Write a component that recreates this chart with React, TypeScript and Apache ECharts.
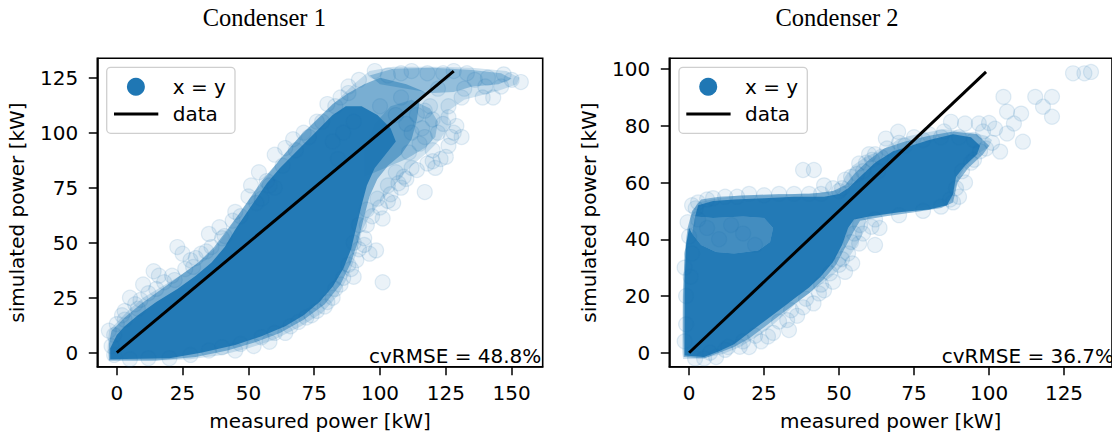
import React, { useEffect, useRef } from "react";
import * as echarts from "echarts";

const BLUE = "#1f77b4";

// ---------- Condenser 1 ----------
const C1_X_TICKS = [0, 25, 50, 75, 100, 125, 150];
const C1_Y_TICKS = [0, 25, 50, 75, 100, 125];
const C1_LINE = [[0, 0], [128, 128]];
// density envelopes of the point cloud (measured, simulated)
const C1_FAINT = [
  [-3, -3.5], [12, -3.8], [28, -3], [40, -1], [50, 2], [60, 6], [70, 12], [78, 18], [84, 26], [88, 35], [91, 45], [93, 55],
  [96, 62], [100, 68], [104, 74], [108, 80], [113, 86], [118, 91], [123, 97], [126, 103], [126, 110], [132, 115], [145, 119],
  [152, 122], [153, 125], [148, 128], [135, 129.5], [120, 130], [105, 130], [96, 128], [90, 122], [84, 115], [78, 108],
  [72, 101], [67, 95], [62, 88], [57, 80], [52, 72], [48, 66], [43, 57], [37, 47], [30, 40], [24, 35], [17, 30], [10, 25],
  [5, 20], [1, 15], [-3, 10], [-3.5, 2],
];
const C1_LOBE = [
  [94, 80], [102, 84], [110, 88], [117, 93], [121, 98], [122, 105], [119, 111], [112, 115], [104, 112], [98, 104], [94, 92],
];
const C1_MID = [
  [-3, -3.5], [15, -3.5], [30, -2], [42, 1], [52, 4.5], [62, 9], [71, 15], [79, 22], [85, 31], [89, 41], [92, 52], [94, 62],
  [96, 71], [99, 79], [103, 85], [108, 90], [112, 97], [114, 106], [115, 114], [118, 118], [110, 122], [100, 125], [94, 122],
  [88, 118], [82, 113], [76, 106], [70, 99], [65, 92], [60, 85], [55, 78], [51, 71], [47, 64], [42, 56], [37, 48], [31, 41],
  [24, 35], [16, 28], [9, 22], [3, 16], [-2, 10], [-3, 4],
];
const C1_CORE = [
  [-2.5, -3], [20, -2.5], [32, 0], [45, 3.5], [55, 7.5], [64, 12], [71, 17], [77, 23], [82, 30], [86, 38], [89, 47], [91, 57],
  [93, 67], [95, 76], [98, 84], [102, 90], [106, 96], [104, 102], [99, 108], [93, 112], [87, 112], [82, 108], [77, 102],
  [72, 96], [67, 90], [62, 84], [57, 77], [53, 70], [49, 63], [45, 56], [41, 48], [36, 41], [30, 35], [23, 29], [15, 23],
  [8, 17], [3, 12], [0, 8], [-2.5, 2],
];
const C1_TOP = [
  [96, 126], [105, 129], [120, 129.5], [135, 128.5], [146, 127], [150, 124.5], [145, 122], [135, 121], [128, 118.5],
  [120, 118], [110, 120], [100, 122],
];
const C1_POINTS = [
  [101, 32], [90, 34.5], [96, 45], [98.5, 46.5], [94, 49], [101, 61], [103, 69], [105, 68], [108, 75], [117, 73], [109, 80],
  [112, 84], [120, 87], [123, 88], [125, 89], [117, 98], [122, 100], [128, 100], [131, 98], [124, 104], [126, 107], [129, 103],
  [117, 110], [119, 112], [131, 116], [139, 116], [143, 116], [153.5, 123], [150, 124], [147, 126.5], [141, 125], [136, 124],
  [133, 127], [128, 128], [124, 127], [118, 127], [112, 128], [108, 127], [103, 126], [98, 128], [92, 124], [88, 121],
  [85, 116], [80, 113], [76, 105], [71, 100], [67, 97], [64, 93], [60, 90], [54, 82], [51, 76], [50, 71], [45, 64], [39, 57],
  [35, 54], [23, 48], [25, 45], [14, 37], [10, 31], [16, 35], [5, 25], [2, 17], [-1, 8], [28, 42], [32, 45], [21, 35],
  [7, 22], [0, 13], [-1, -1], [5, -3], [12, -2.5], [20, -2.5], [28, -1], [35, 1], [40, 2.5], [47, 4], [55, 7], [60, 9],
  [66, 12], [72, 16], [76, 19], [80, 23], [83, 29], [86, 34], [89, 38], [91, 42], [92, 47], [94, 52], [95, 58], [97, 62],
  [100, 66], [104, 72], [107, 77], [110, 79], [114, 83], [118, 86], [121, 84], [120, 92], [126, 94], [127, 98], [115, 95],
  [112, 100], [110, 104], [114, 108], [120, 106], [126, 112], [84, 88], [82, 96], [86, 100], [90, 105], [60, 75], [57, 78],
  [55, 70], [44, 60], [40, 52], [36, 48], [30, 43], [26, 38], [18, 32], [12, 27], [8, 20], [3, 15], [-2, 3], [-3, 10],
  [3, 19], [9, 24], [15, 29], [22, 33], [29, 39], [34, 46], [41, 53], [47, 62], [53, 68], [58, 76], [63, 85], [68, 92],
  [73, 98], [78, 105], [83, 112], [88, 118], [45, 1], [52, 3], [58, 5], [64, 9], [69, 14], [74, 17], [79, 21], [82, 25],
  [85, 31], [88, 40], [90, 50], [92, 58], [95, 65], [99, 70], [103, 76], [106, 82], [111, 91], [116, 102], [106, 108],
  [100, 112], [108, 116], [122, 120], [132, 120], [140, 121], [146, 121],
];

// ---------- Condenser 2 ----------
const C2_X_TICKS = [0, 25, 50, 75, 100, 125];
const C2_Y_TICKS = [0, 20, 40, 60, 80, 100];
const C2_LINE = [[0, 0], [99, 99]];
const C2_FAINT = [
  [-2, -2.2], [3, -2.2], [11, -0.5], [17, 2], [21.6, 5], [26, 8], [31, 12.7], [36.8, 18.6], [40, 21], [47.4, 26.8],
  [52, 31.5], [55.6, 37.4], [58, 42], [59, 46.8], [61.4, 48], [67, 49], [73, 50.3], [79, 51.5], [83.6, 52.6], [87.2, 53.8],
  [88.4, 57], [89.6, 61], [92, 65.6], [96.6, 70.3], [100, 72.6], [101, 75], [99, 76.5], [94, 77.6], [90.8, 78.2], [85, 78.8],
  [79, 77.6], [73, 76.3], [69.7, 75.3], [65, 71.8], [59, 69.2], [54.4, 65.8], [52, 62], [50, 57.5], [45, 56.3], [38, 56.3],
  [32, 55.5], [26, 55.5], [17, 55.5], [8.7, 54.3], [2.8, 53], [1, 49], [0, 44], [-1.3, 35], [-1.9, 26.8], [-2.2, 18.6],
  [-2.3, 9], [-2.3, 0],
];
const C2_MID = [
  [-1.8, -1.5], [5, -2], [10, 0], [15, 2], [20, 5], [25, 9], [30, 13], [35, 17], [40, 21], [45, 26], [49, 31], [52, 37],
  [55, 43], [57, 46.5], [65, 48], [75, 49.5], [84, 51], [88, 53], [89.5, 60], [93, 65], [98, 70], [100, 73], [96, 77],
  [88, 78], [80, 76.5], [72, 74.5], [65, 72], [60, 68], [55, 63], [52, 59], [48, 57], [40, 56], [30, 56], [20, 55.5],
  [10, 55], [4, 54], [1, 50], [-0.5, 44], [-1.5, 35], [-2, 20], [-2, 8],
];
const C2_CORE = [
  [-1.5, -1], [5, -1.5], [10, 0.5], [15, 3], [20, 7], [25, 11], [30, 15], [35, 19], [40, 23], [44, 27], [48, 32], [51, 38],
  [53, 44], [55, 47], [60, 48], [70, 49.5], [80, 50.5], [86, 52], [88, 56], [89, 62], [92, 66], [96, 70], [97, 73], [94, 76],
  [88, 77], [80, 75], [74, 73], [68, 71], [62, 67], [57, 62], [53, 58], [50, 56], [45, 55], [35, 55], [25, 54.5], [15, 54],
  [8, 53.5], [3, 52], [2, 48], [8, 47.5], [18, 48], [25, 47.5], [28, 44], [27, 39], [23, 36], [15, 35], [9, 35.5], [4, 38],
  [1, 42], [0, 44], [-1, 38], [-1.5, 25], [-1.5, 10],
];
const C2_PATCH = [
  [2, 48], [8, 47.5], [18, 48], [25, 47.5], [28, 44], [27, 39], [23, 36], [15, 35], [9, 35.5], [4, 38], [1, 42],
];
const C2_POINTS = [
  [104.8, 90.2], [115.4, 90.2], [121, 90.2], [118, 86.7], [121, 83.2], [128, 98.5], [131.8, 98.5], [134, 99], [106, 85],
  [110.7, 84.3], [108.3, 80.8], [106, 77.3], [111.3, 74.4], [103.7, 70.9], [87.3, 81.4], [92, 80.8], [96.6, 80.8], [100, 81],
  [102, 79], [98, 78], [69.7, 77.9], [65.6, 75.5], [38, 64.4], [41.6, 64.4], [45, 59], [56.7, 66.7], [59, 67], [61, 68],
  [60, 70], [63, 64], [52, 61], [48, 58], [33.3, 8], [32.7, 11.5], [26.3, 5.7], [16.9, 2.1], [13, 2], [20, 2], [41.5, 17.4],
  [43.3, 20.9], [52, 28.5], [54.4, 31.5], [56.7, 38.5], [62, 38], [60.8, 44.4], [63.5, 44], [58, 42], [0, 41], [2.2, 50.9],
  [0.5, 26.8], [3, 47], [1, 35], [-1, 20], [-1, 10], [5, -2], [9, -1.5], [24, 4], [28, 7], [36, 13], [38, 16], [45, 22],
  [48, 25], [50, 31], [53, 35], [55, 42], [90, 55], [92, 60], [88, 53], [95, 68], [99, 72], [101, 74], [85, 78], [80, 77],
  [75, 76], [70, 74], [66, 72], [62, 70], [58, 64], [54, 62], [50, 57], [40, 56], [30, 56], [20, 56], [12, 55], [6, 54],
  [3, 53], [-1.5, 30], [-1.5, 4], [2, -2], [7, 0], [12, 1], [18, 4], [22, 6], [30, 11], [34, 15], [39, 19], [44, 24],
  [47, 28], [51, 33], [54, 39], [57, 45], [62, 47], [70, 48.5], [78, 50], [84, 51.5], [87, 54], [89, 58], [91, 64],
  [94, 67], [97, 71], [95, 75], [90, 76], [84, 76], [78, 75], [72, 73], [64, 69], [56, 63], [51, 58], [44, 56], [35, 56],
  [25, 55.5], [16, 55], [8, 54.5], [1, 52], [-0.5, 46], [10, 40], [18, 42], [22, 38], [6, 44], [14, 45],
];

const LABEL_FONT = "DejaVu Sans";
const FS = 20;

function polySeries(poly: number[][], alpha: number, idx: number, color = "31,119,180") {
  return {
    type: "custom",
    xAxisIndex: idx,
    yAxisIndex: idx,
    silent: true,
    z: 1,
    data: [[0, 0]],
    renderItem: (_p: any, api: any) => ({
      type: "polygon",
      shape: { points: poly.map((p) => api.coord(p)) },
      style: { fill: `rgba(${color},${alpha})` },
    }),
  };
}

function axisPair(idx: number, xr: number[], yr: number[], xt: number[], yt: number[]) {
  const common = {
    gridIndex: idx,
    type: "value",
    axisLine: { show: true, onZero: false, lineStyle: { color: "#000", width: 1.6 } },
    axisTick: { show: true, length: 8.5, lineStyle: { color: "#000", width: 1.5 } },
    splitLine: { show: false },
    nameTextStyle: { fontFamily: LABEL_FONT, fontSize: FS, color: "#000" },
  };
  return {
    x: {
      ...common,
      min: xr[0],
      max: xr[1],
      axisTick: { ...common.axisTick, customValues: xt },
      axisLabel: { customValues: xt, fontFamily: LABEL_FONT, fontSize: FS, color: "#000", margin: 16.5 },
      name: "measured power [kW]",
      nameLocation: "middle",
      nameGap: 44,
    },
    y: {
      ...common,
      min: yr[0],
      max: yr[1],
      axisTick: { ...common.axisTick, customValues: yt },
      axisLabel: { customValues: yt, fontFamily: LABEL_FONT, fontSize: FS, color: "#000", margin: 19 },
      name: "simulated power [kW]",
      nameLocation: "middle",
      nameGap: 70,
    },
  };
}

function legend(dx: number) {
  const t = { fontFamily: LABEL_FONT, fontSize: FS, fill: "#000", textVerticalAlign: "middle", verticalAlign: "middle" };
  return [
    {
      type: "rect",
      z: 100,
      shape: { x: 106.7 + dx, y: 67.3, width: 128.3, height: 66, r: 4 },
      style: { fill: "rgba(255,255,255,0.8)", stroke: "#cfcfcf", lineWidth: 1.3 },
    },
    { type: "circle", z: 101, shape: { cx: 135.9 + dx, cy: 86.7, r: 9 }, style: { fill: BLUE } },
    { type: "line", z: 101, shape: { x1: 114 + dx, y1: 114, x2: 158.3 + dx, y2: 114 }, style: { stroke: "#000", lineWidth: 3 } },
    { type: "text", z: 101, x: 172.7 + dx, y: 86.7, style: { ...t, text: "x = y" } },
    { type: "text", z: 101, x: 172.7 + dx, y: 114, style: { ...t, text: "data" } },
  ];
}

export default function App() {
  const ref = useRef<HTMLDivElement>(null);
  useEffect(() => {
    if (!ref.current) return;
    const chart = echarts.init(ref.current, undefined, { renderer: "svg" });
    const a0 = axisPair(0, [-7.4, 161.8], [-6.36, 133.8], C1_X_TICKS, C1_Y_TICKS);
    const a1 = axisPair(1, [-6.6, 141], [-4.93, 103.8], C2_X_TICKS, C2_Y_TICKS);
    const scatterStyle = {
      color: "rgba(31,119,180,0.12)",
      borderColor: "rgba(31,119,180,0.16)",
      borderWidth: 1.2,
    };
    const titleStyle = {
      fontFamily: "Liberation Serif",
      fontSize: 24.5,
      fill: "#000",
      textAlign: "center",
      align: "center",
      textVerticalAlign: "middle",
      verticalAlign: "middle",
    };
    const noteStyle = {
      fontFamily: LABEL_FONT,
      fontSize: FS,
      fill: "#000",
      textAlign: "right",
      align: "right",
      textVerticalAlign: "middle",
      verticalAlign: "middle",
    };
    const option: any = {
      animation: false,
      backgroundColor: "#fff",
      grid: [
        { left: 97.3, top: 58.3, width: 445.4, height: 308.4, show: true, borderColor: "#000", borderWidth: 1.6, backgroundColor: "transparent" },
        { left: 669.3, top: 58.3, width: 446.3, height: 308.4, show: true, borderColor: "#000", borderWidth: 1.6, backgroundColor: "transparent" },
      ],
      xAxis: [a0.x, a1.x],
      yAxis: [a0.y, a1.y],
      series: [
        polySeries(C1_FAINT, 0.2, 0),
        polySeries(C1_LOBE, 0.3, 0),
        polySeries(C1_TOP, 0.35, 0),
        polySeries(C1_MID, 0.5, 0),
        polySeries(C1_CORE, 0.95, 0),
        {
          type: "scatter",
          name: "x = y",
          xAxisIndex: 0,
          yAxisIndex: 0,
          z: 2,
          symbolSize: 15,
          itemStyle: scatterStyle,
          data: C1_POINTS,
        },
        {
          type: "line",
          name: "data",
          xAxisIndex: 0,
          yAxisIndex: 0,
          z: 5,
          symbol: "none",
          lineStyle: { color: "#000", width: 3 },
          data: C1_LINE,
        },
        polySeries(C2_FAINT, 0.2, 1),
        polySeries(C2_MID, 0.5, 1),
        polySeries(C2_PATCH, 0.6, 1),
        polySeries(C2_CORE, 0.95, 1),
        {
          type: "scatter",
          name: "x = y",
          xAxisIndex: 1,
          yAxisIndex: 1,
          z: 2,
          symbolSize: 15,
          itemStyle: scatterStyle,
          data: C2_POINTS,
        },
        {
          type: "line",
          name: "data",
          xAxisIndex: 1,
          yAxisIndex: 1,
          z: 5,
          symbol: "none",
          lineStyle: { color: "#000", width: 3 },
          data: C2_LINE,
        },
      ],
      graphic: [
        { type: "text", x: 264.3, y: 17, style: { ...titleStyle, text: "Condenser 1" } },
        { type: "text", x: 837, y: 17, style: { ...titleStyle, text: "Condenser 2" } },
        { type: "text", z: 100, x: 541.3, y: 356.3, style: { ...noteStyle, text: "cvRMSE = 48.8%" } },
        { type: "text", z: 100, x: 1114.1, y: 356.3, style: { ...noteStyle, text: "cvRMSE = 36.7%" } },
        ...legend(0),
        ...legend(572.3),
      ],
    };
    chart.setOption(option);
    return () => chart.dispose();
  }, []);
  return <div ref={ref} style={{ position: "absolute", left: 0, top: 0, width: 1112, height: 438 }} />;
}
